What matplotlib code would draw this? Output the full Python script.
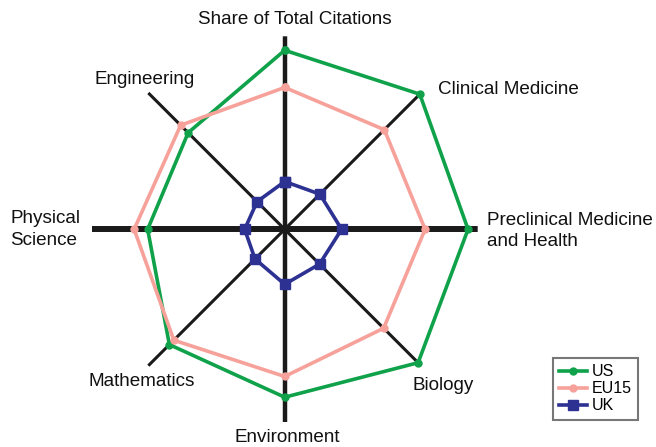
import numpy as np
import matplotlib
matplotlib.use("Agg")
import matplotlib.pyplot as plt

plt.rcParams['font.family'] = ['Liberation Sans', 'DejaVu Sans']

categories = ["Share of Total Citations", "Clinical Medicine", "Preclinical Medicine\nand Health",
              "Biology", "Environment", "Mathematics", "Physical\nScience", "Engineering"]
us_values = [37.1, 39.6, 38.0, 39.1, 34.8, 33.8, 28.4, 28.3]
eu15_values = [29.4, 29.2, 29.1, 29.0, 30.5, 32.5, 31.2, 30.5]
uk_values = [9.9, 10.3, 11.8, 10.2, 11.4, 8.7, 8.3, 8.1]
series_names = ["US", "EU15", "UK"]
axis_max = 40

W, H = 656, 447
fig = plt.figure(figsize=(W / 100, H / 100), dpi=100)
cx, cy, R = 284.7, 229.3, 193
ax = fig.add_axes([(cx - R) / W, (H - cy - R) / H, 2 * R / W, 2 * R / H], projection='polar')
ax.set_theta_zero_location('N')
ax.set_theta_direction(-1)
ax.set_ylim(0, axis_max)
ax.grid(False)
ax.set_xticks([])
ax.set_yticks([])
ax.spines['polar'].set_visible(False)
ax.patch.set_alpha(0)

n = len(categories)
angles = np.arange(n) * 2 * np.pi / n
widths = [3.2, 2.2, 4.3, 2.2, 3.2, 2.2, 4.3, 2.2]
for a, w in zip(angles, widths):
    ax.plot([a, a], [0, axis_max], color='#1a1a1a', lw=w, solid_capstyle='butt', zorder=1)

closed = np.append(angles, angles[0])
styles = [
    (us_values, '#0fa24a', 'o', 5),
    (eu15_values, '#f7a19b', 'o', 5),
    (uk_values, '#2d3192', 's', 7),
]
handles = []
for (vals, col, mk, ms), name in zip(styles, series_names):
    v = np.append(vals, vals[0])
    h, = ax.plot(closed, v, color=col, lw=2.6, marker=mk, markersize=ms, zorder=3, label=name,
                 clip_on=False)
    handles.append(h)

def ftext(x, y, s, ha='center', va='center', **kw):
    fig.text(x / W, 1 - y / H, s, ha=ha, va=va, fontsize=13.6, color='#111111', **kw)

ftext(295, 20, categories[0])
ftext(438, 90, categories[1], ha='left')
ftext(487, 231, categories[2], ha='left', linespacing=1.35)
ftext(443, 386, categories[3])
ftext(287, 438, categories[4])
ftext(142, 381, categories[5])
ftext(10, 229.5, categories[6], ha='left', linespacing=1.35)
ftext(145, 79, categories[7])

leg = fig.legend(handles=handles, loc='upper left',
                 bbox_to_anchor=(553 / W, 1 - 358 / H), fontsize=11.5,
                 frameon=True, fancybox=False, handlelength=1.7, handletextpad=0.3,
                 borderpad=0.4, labelspacing=0.12, borderaxespad=0)
leg.get_frame().set_edgecolor('#555555')
leg.get_frame().set_linewidth(1.5)

fig.savefig('out.png', dpi=100)
